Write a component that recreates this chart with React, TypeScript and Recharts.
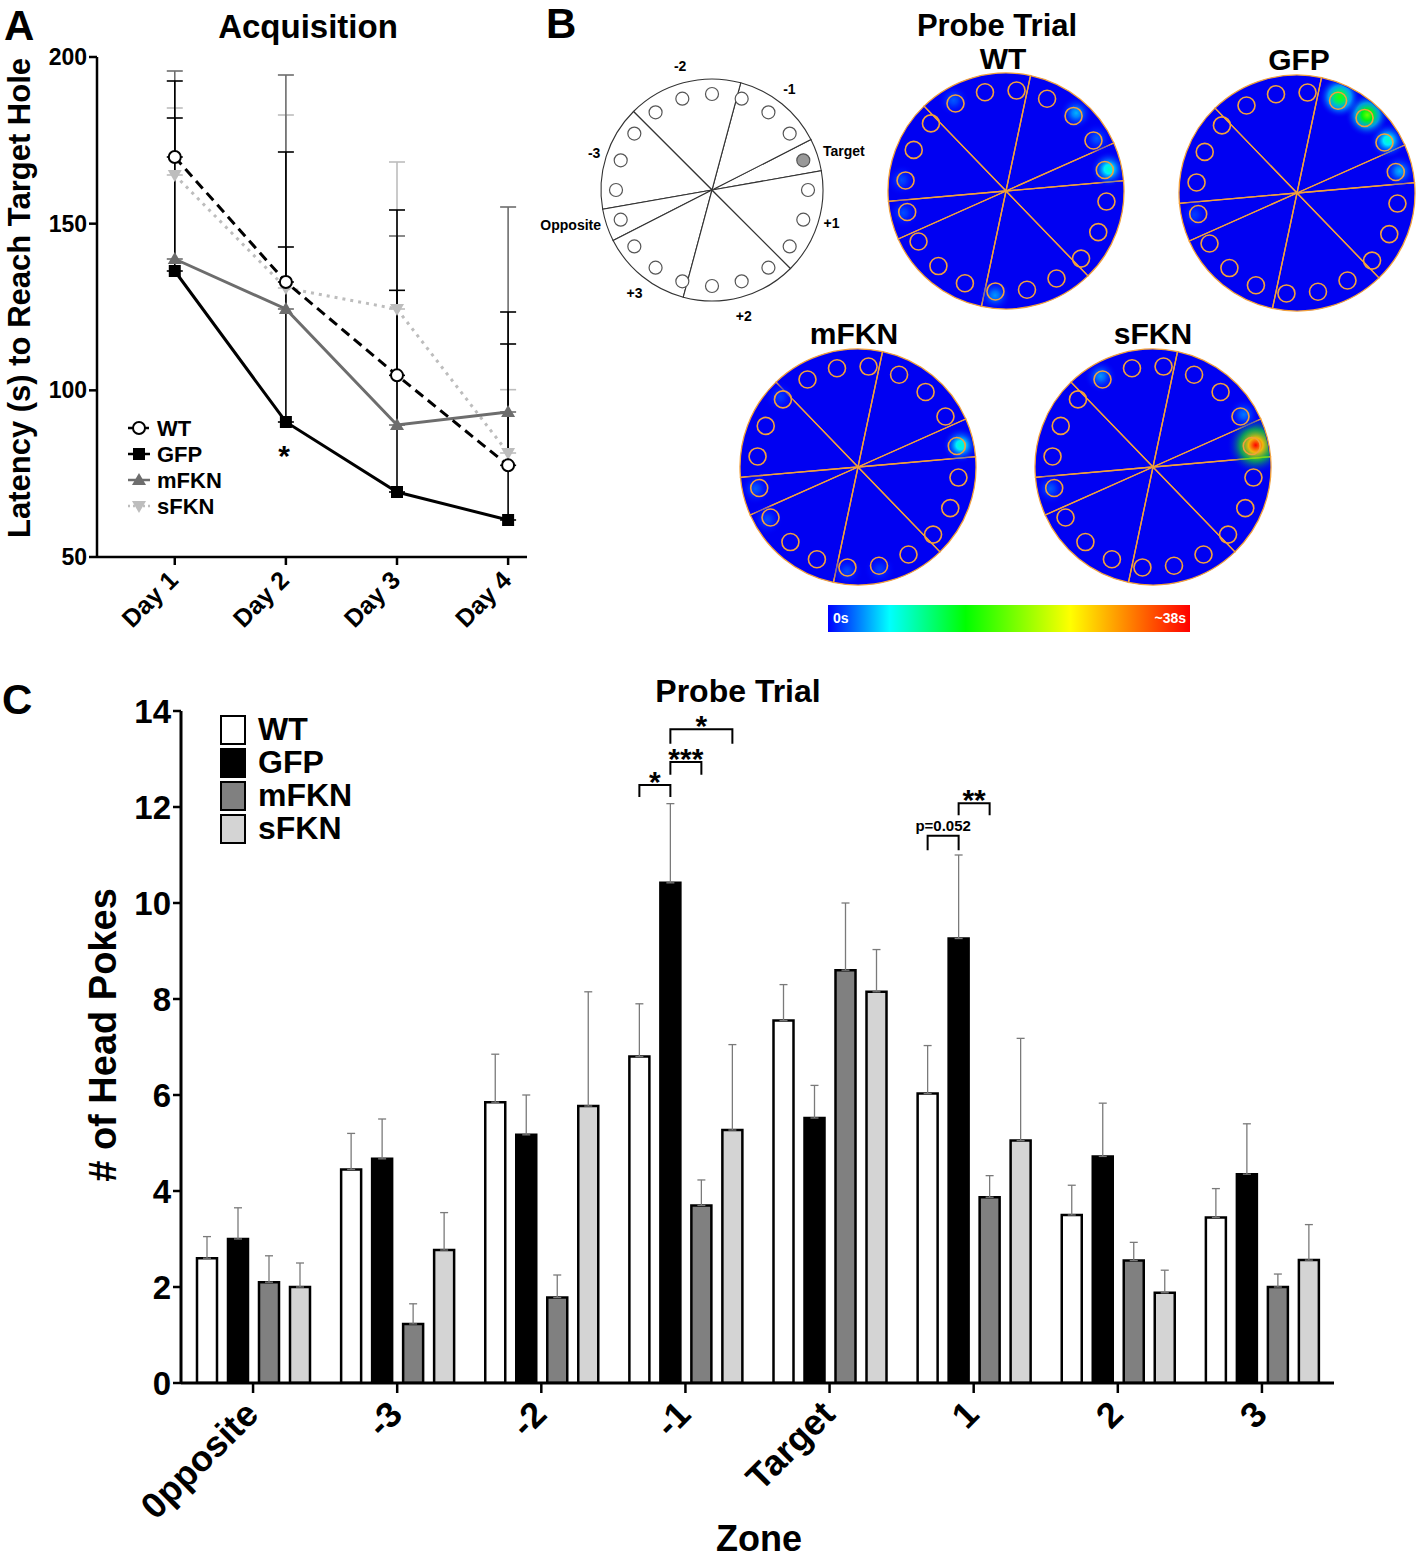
import React from "react";
import { LineChart, Line, BarChart, Bar, XAxis, YAxis, ErrorBar, PieChart, Pie } from "recharts";

const FONT = '"Liberation Sans", Arial, Helvetica, sans-serif';
const MAZE_BLUE = "#0000f2";
const ORANGE = "#f2a13a";
const RAD = Math.PI / 180;

// ---- A: acquisition, latency (s)
const days = [1, 2, 3, 4];
const dayLabels = ["Day 1", "Day 2", "Day 3", "Day 4"];
const latencyTicks = [50, 100, 150, 200];
const wtLatency = [170, 132.5, 104.5, 77.5];
const wtLatencySem = [22.8, 39, 49.6, 46];
const gfpLatency = [135.8, 90.5, 69.5, 61.1];
const gfpLatencySem = [45.9, 52.5, 60.5, 52.8];
const mfknLatency = [139.4, 124.4, 89.6, 93.5];
const mfknLatencySem = [56.4, 70.2, 56.7, 61.5];
const sfknLatency = [164.6, 130.7, 124.4, 81.2];
const sfknLatencySem = [20.1, 51.9, 44.1, 19];

// ---- B: maze zones, holes and probe occupancy (0..1 of ~38s)
const zoneNames = ["Target", "-1", "-2", "-3", "Opposite", "+3", "+2", "+1"];
const schematicZoneDeg = [17, 48, 60, 55, 17, 48, 60, 55];
const heatZoneDeg = [19, 54, 56, 51, 19, 54, 56, 51];
const holeNumbers = [0, 1, 2, 3, 4, 5, 6, 7, 8, 9, 10, 11, 12, 13, 14, 15, 16, 17, 18, 19];
const targetHole = 1;
const wtHeat = [0, 0.22, 0.06, 0.12, 0, 0, 0, 0.06, 0, 0, 0.05, 0.05, 0, 0, 0, 0.1, 0, 0, 0, 0];
const gfpHeat = [0, 0.12, 0.22, 0.5, 0.42, 0, 0, 0, 0, 0, 0, 0.04, 0, 0, 0, 0, 0, 0, 0, 0];
const mfknHeat = [0, 0.22, 0, 0, 0, 0, 0, 0, 0.04, 0, 0, 0.06, 0.05, 0, 0, 0.05, 0.04, 0, 0, 0];
const sfknHeat = [0, 1, 0.08, 0, 0, 0, 0, 0.1, 0, 0, 0, 0.06, 0, 0, 0, 0, 0, 0, 0, 0];

// ---- C: probe trial head pokes
const zones = ["0pposite", "-3", "-2", "-1", "Target", "1", "2", "3"];
const pokeTicks = [0, 2, 4, 6, 8, 10, 12, 14];
const wtPokes = [2.6, 4.45, 5.85, 6.8, 7.55, 6.03, 3.5, 3.45];
const wtPokesSem = [0.45, 0.75, 1.0, 1.1, 0.75, 1.0, 0.62, 0.6];
const gfpPokes = [3.0, 4.67, 5.17, 10.42, 5.52, 9.26, 4.72, 4.35];
const gfpPokesSem = [0.65, 0.83, 0.83, 1.65, 0.68, 1.74, 1.11, 1.05];
const mfknPokes = [2.1, 1.23, 1.78, 3.7, 8.6, 3.87, 2.55, 2.0];
const mfknPokesSem = [0.55, 0.42, 0.47, 0.53, 1.4, 0.45, 0.38, 0.27];
const sfknPokes = [2.0, 2.77, 5.77, 5.27, 8.15, 5.05, 1.88, 2.56];
const sfknPokesSem = [0.5, 0.78, 2.38, 1.78, 0.88, 2.13, 0.47, 0.74];

// significance brackets, series index 0=WT 1=GFP 2=mFKN 3=sFKN
const brackets = [
  { zone: "-1", from: 0, to: 1, level: 12.46, drop: 0.25, text: "*" },
  { zone: "-1", from: 1, to: 2, level: 12.94, drop: 0.27, text: "***" },
  { zone: "-1", from: 1, to: 3, level: 13.62, drop: 0.3, text: "*" },
  { zone: "1", from: 0, to: 1, level: 11.4, drop: 0.3, text: "p=0.052" },
  { zone: "1", from: 1, to: 2, level: 12.08, drop: 0.25, text: "**" },
];

const JET: [number, number[]][] = [
  [0, [0, 0, 255]],
  [0.17, [0, 255, 255]],
  [0.38, [0, 255, 0]],
  [0.67, [255, 255, 0]],
  [1, [255, 0, 0]],
];

function jet(v: number) {
  const t = Math.max(0, Math.min(1, v));
  for (let i = 1; i < JET.length; i++) {
    const [p0, c0] = JET[i - 1];
    const [p1, c1] = JET[i];
    if (t <= p1) {
      const f = (t - p0) / (p1 - p0);
      const c = c0.map((ch, k) => Math.round(ch + (c1[k] - ch) * f));
      return `rgb(${c.join(",")})`;
    }
  }
  return "rgb(255,0,0)";
}

const acquisition = days.map((d, i) => ({
  day: d,
  wt: wtLatency[i],
  wtErr: [0, wtLatencySem[i]],
  gfp: gfpLatency[i],
  gfpErr: [0, gfpLatencySem[i]],
  mfkn: mfknLatency[i],
  mfknErr: [0, mfknLatencySem[i]],
  sfkn: sfknLatency[i],
  sfknErr: [0, sfknLatencySem[i]],
}));

const probe = zones.map((z, i) => ({
  zone: z,
  wt: wtPokes[i],
  wtErr: [0, wtPokesSem[i]],
  gfp: gfpPokes[i],
  gfpErr: [0, gfpPokesSem[i]],
  mfkn: mfknPokes[i],
  mfknErr: [0, mfknPokesSem[i]],
  sfkn: sfknPokes[i],
  sfknErr: [0, sfknPokesSem[i]],
}));

const pokeSeries = [
  { key: "wt", name: "WT", fill: "#ffffff" },
  { key: "gfp", name: "GFP", fill: "#000000" },
  { key: "mfkn", name: "mFKN", fill: "#808080" },
  { key: "sfkn", name: "sFKN", fill: "#d4d4d4" },
];

const BAR_GAP = 11;
const NO_MARGIN = { top: 0, right: 0, bottom: 0, left: 0 };

// markers for panel A
const CircleDot = (p: any) => (
  <circle cx={p.cx} cy={p.cy} r={6} fill="#fff" stroke="#000" strokeWidth={2} />
);
const SquareDot = (p: any) => <rect x={p.cx - 6} y={p.cy - 6} width={12} height={12} fill="#000" />;
const triUp = (color: string) => (p: any) => (
  <polygon points={`${p.cx},${p.cy - 7} ${p.cx - 7},${p.cy + 5} ${p.cx + 7},${p.cy + 5}`} fill={color} />
);
const triDown = (color: string) => (p: any) => (
  <polygon points={`${p.cx},${p.cy + 7} ${p.cx - 7},${p.cy - 5} ${p.cx + 7},${p.cy - 5}`} fill={color} />
);

const DayTick = ({ x, y, payload }: any) => (
  <g transform={`translate(${x - 8},${y + 2})`}>
    <text transform="rotate(-45)" textAnchor="end" dy="0.72em" fontSize={25} fontWeight="bold" fontFamily={FONT} fill="#000">
      {dayLabels[days.indexOf(payload.value)]}
    </text>
  </g>
);

const ZoneTick = ({ x, y, payload }: any) => (
  <g transform={`translate(${x - 11},${y + 3})`}>
    <text transform="rotate(-45)" textAnchor="end" dy="0.72em" fontSize={36} fontWeight="bold" fontFamily={FONT} fill="#000">
      {payload.value}
    </text>
  </g>
);

const renderBrackets = (p: any) => {
  const vb = p.viewBox ?? p;
  const zone = zones[p.index];
  const list = brackets.filter((b) => b.zone === zone);
  if (!list.length || vb == null) return <g />;
  const value = typeof p.value === "number" ? p.value : gfpPokes[p.index];
  const step = vb.width + BAR_GAP;
  const cx = (s: number) => vb.x + vb.width / 2 + (s - 1) * step;
  const base = vb.y + vb.height;
  const px = vb.height / value;
  const yv = (v: number) => base - v * px;
  return (
    <g>
      {list.map((b, i) => {
        const y0 = yv(b.level);
        const y1 = yv(b.level - b.drop);
        const x0 = cx(b.from);
        const x1 = cx(b.to);
        const small = b.text.startsWith("p");
        return (
          <g key={i}>
            <path d={`M${x0},${y1}V${y0}H${x1}V${y1}`} fill="none" stroke="#000" strokeWidth={2} />
            <text
              x={(x0 + x1) / 2}
              y={small ? y0 - 5 : y0 + 7}
              textAnchor="middle"
              fontSize={small ? 15 : 30}
              fontWeight="bold"
              fontFamily={FONT}
              fill="#000"
            >
              {b.text}
            </text>
          </g>
        );
      })}
    </g>
  );
};

// ---- maze pie helpers
const polar = (p: any, r: number) => ({
  x: p.cx + r * Math.cos(p.midAngle * RAD),
  y: p.cy - r * Math.sin(p.midAngle * RAD),
});

const heatBlob = (id: string, heat: number[]) => (p: any) => {
  const v = heat[p.index] ?? 0;
  if (!v) return <g />;
  const { x, y } = polar(p, p.outerRadius + 4);
  const gid = `${id}-${p.index}`;
  return (
    <g>
      <defs>
        <radialGradient id={gid}>
          <stop offset="0%" stopColor={jet(v)} stopOpacity={1} />
          <stop offset="25%" stopColor={jet(v * 0.75)} stopOpacity={0.95} />
          <stop offset="55%" stopColor={jet(v * 0.4)} stopOpacity={0.6} />
          <stop offset="100%" stopColor="#0000ff" stopOpacity={0} />
        </radialGradient>
        <clipPath id={`${gid}c`}>
          <circle cx={p.cx} cy={p.cy} r={117} />
        </clipPath>
      </defs>
      <circle cx={x} cy={y} r={15 + 14 * v} fill={`url(#${gid})`} clipPath={`url(#${gid}c)`} />
    </g>
  );
};

const heatHole = (p: any) => {
  const { x, y } = polar(p, p.outerRadius);
  return <circle cx={x} cy={y} r={8.5} fill="none" stroke={ORANGE} strokeWidth={1.6} />;
};

const schematicHole = (p: any) => {
  const { x, y } = polar(p, p.outerRadius);
  const isTarget = p.index === targetHole;
  return (
    <circle cx={x} cy={y} r={6.5} fill={isTarget ? "#999" : "#fff"} stroke="#555" strokeWidth={1.2} />
  );
};

const zoneLabel = (p: any) => {
  const c = Math.cos(p.midAngle * RAD);
  const s = Math.sin(p.midAngle * RAD);
  const side = c > 0.7 ? "start" : c < -0.7 ? "end" : "middle";
  const r = p.outerRadius + (side === "middle" ? 12 : 6);
  const { x, y } = polar(p, r);
  const dy = side === "middle" ? (s > 0 ? 0 : 12) : 3;
  return (
    <text x={x} y={y + dy} textAnchor={side} fontSize={14} fontWeight="bold" fontFamily={FONT} fill="#000">
      {zoneNames[p.index]}
    </text>
  );
};

const schematicZones = zoneNames.map((z, i) => ({ zone: z, deg: schematicZoneDeg[i] }));
const heatZones = zoneNames.map((z, i) => ({ zone: z, deg: heatZoneDeg[i] }));
const holes = holeNumbers.map((h) => ({ hole: h, slot: 1 }));

const Schematic = ({ cx, cy }: { cx: number; cy: number }) => (
  <div style={{ position: "absolute", left: cx - 200, top: cy - 150 }}>
    <PieChart width={400} height={300} margin={NO_MARGIN}>
      <Pie data={schematicZones} dataKey="deg" cx={200} cy={150} outerRadius={111} startAngle={10} endAngle={370}
        fill="#fff" stroke="#333" strokeWidth={1.1} label={zoneLabel} labelLine={false} isAnimationActive={false} />
      <Pie data={holes} dataKey="slot" cx={200} cy={150} outerRadius={96} startAngle={-9} endAngle={351}
        fill="none" stroke="none" label={schematicHole} labelLine={false} isAnimationActive={false} />
    </PieChart>
  </div>
);

const HeatMap = ({ id, cx, cy, heat }: { id: string; cx: number; cy: number; heat: number[] }) => (
  <div style={{ position: "absolute", left: cx - 120, top: cy - 120 }}>
    <PieChart width={240} height={240} margin={NO_MARGIN}>
      <Pie data={heatZones} dataKey="deg" cx={120} cy={120} outerRadius={118} startAngle={5} endAngle={365}
        fill={MAZE_BLUE} stroke="none" isAnimationActive={false} />
      <Pie data={holes} dataKey="slot" cx={120} cy={120} outerRadius={101} startAngle={-15} endAngle={345}
        fill="none" stroke="none" label={heatBlob(id, heat)} labelLine={false} isAnimationActive={false} />
      <Pie data={heatZones} dataKey="deg" cx={120} cy={120} outerRadius={118} startAngle={5} endAngle={365}
        fill="none" stroke={ORANGE} strokeWidth={1.3} isAnimationActive={false} />
      <Pie data={holes} dataKey="slot" cx={120} cy={120} outerRadius={101} startAngle={-15} endAngle={345}
        fill="none" stroke="none" label={heatHole} labelLine={false} isAnimationActive={false} />
    </PieChart>
  </div>
);

const txt = (x: number, y: number, s: string, size: number, anchor = "middle", extra: any = {}) => (
  <text x={x} y={y} textAnchor={anchor} fontSize={size} fontWeight="bold" fontFamily={FONT} fill="#000" {...extra}>
    {s}
  </text>
);

const legendA = [
  { name: "WT", color: "#000", dash: "5 3", marker: "circle" },
  { name: "GFP", color: "#000", dash: undefined, marker: "square" },
  { name: "mFKN", color: "#6d6d6d", dash: undefined, marker: "up" },
  { name: "sFKN", color: "#bdbdbd", dash: "2 3", marker: "down" },
];

export default function App() {
  const gradient = JET.map(([p, c]) => `rgb(${c.join(",")}) ${p * 100}%`).join(", ");
  return (
    <div style={{ position: "absolute", left: 0, top: 0, width: 1418, height: 1559, background: "#fff", overflow: "hidden", fontFamily: FONT }}>
      {/* A */}
      <div style={{ position: "absolute", left: 0, top: 0 }}>
        <LineChart width={540} height={650} data={acquisition} margin={{ top: 57, right: 13, bottom: 0, left: 47 }}>
          <XAxis dataKey="day" type="number" domain={[0.3, 4.17]} allowDataOverflow ticks={days} tick={<DayTick />}
            height={93} tickSize={8} axisLine={{ stroke: "#000", strokeWidth: 2.5 }} tickLine={{ stroke: "#000", strokeWidth: 2.5 }} />
          <YAxis domain={[50, 200]} ticks={latencyTicks} width={50} allowDataOverflow tickSize={8}
            tick={{ fontSize: 23, fontWeight: "bold", fill: "#000", fontFamily: FONT }}
            axisLine={{ stroke: "#000", strokeWidth: 2.5 }} tickLine={{ stroke: "#000", strokeWidth: 2.5 }} />
          <Line dataKey="sfkn" stroke="#bdbdbd" strokeWidth={3} strokeDasharray="3 5" dot={triDown("#bdbdbd")} isAnimationActive={false}>
            <ErrorBar dataKey="sfknErr" direction="y" width={8} stroke="#bdbdbd" strokeWidth={1.6} />
          </Line>
          <Line dataKey="mfkn" stroke="#6d6d6d" strokeWidth={3} dot={triUp("#6d6d6d")} isAnimationActive={false}>
            <ErrorBar dataKey="mfknErr" direction="y" width={8} stroke="#6d6d6d" strokeWidth={1.6} />
          </Line>
          <Line dataKey="wt" stroke="#000" strokeWidth={3} strokeDasharray="10 6" dot={CircleDot} isAnimationActive={false}>
            <ErrorBar dataKey="wtErr" direction="y" width={8} stroke="#000" strokeWidth={1.6} />
          </Line>
          <Line dataKey="gfp" stroke="#000" strokeWidth={3} dot={SquareDot} isAnimationActive={false}>
            <ErrorBar dataKey="gfpErr" direction="y" width={8} stroke="#000" strokeWidth={1.6} />
          </Line>
        </LineChart>
      </div>

      {/* B */}
      <Schematic cx={712} cy={190} />
      <HeatMap id="wt" cx={1006} cy={191} heat={wtHeat} />
      <HeatMap id="gfp" cx={1297} cy={193} heat={gfpHeat} />
      <HeatMap id="mfkn" cx={858} cy={467} heat={mfknHeat} />
      <HeatMap id="sfkn" cx={1153} cy={467} heat={sfknHeat} />
      <div style={{ position: "absolute", left: 828, top: 605, width: 362, height: 27, background: `linear-gradient(to right, ${gradient})` }}>
        <span style={{ position: "absolute", left: 5, top: 5, color: "#fff", fontWeight: "bold", fontSize: 14 }}>0s</span>
        <span style={{ position: "absolute", right: 4, top: 5, color: "#fff", fontWeight: "bold", fontSize: 14 }}>~38s</span>
      </div>

      {/* C */}
      <div style={{ position: "absolute", left: 0, top: 680 }}>
        <BarChart width={1418} height={879} data={probe} margin={{ top: 31, right: 84, bottom: 56, left: 121 }}
          barCategoryGap={16} barGap={BAR_GAP}>
          <XAxis dataKey="zone" interval={0} height={120} tickSize={10} tick={<ZoneTick />}
            axisLine={{ stroke: "#000", strokeWidth: 3 }} tickLine={{ stroke: "#000", strokeWidth: 2.5 }} />
          <YAxis domain={[0, 14]} ticks={pokeTicks} width={60} tickSize={8} allowDataOverflow
            tick={{ fontSize: 33, fontWeight: "bold", fill: "#000", fontFamily: FONT }}
            axisLine={{ stroke: "#000", strokeWidth: 3 }} tickLine={{ stroke: "#000", strokeWidth: 2.5 }} />
          {pokeSeries.map((s) => (
            <Bar key={s.key} dataKey={s.key} name={s.name} fill={s.fill} stroke="#000" strokeWidth={2.5}
              isAnimationActive={false} label={s.key === "gfp" ? renderBrackets : undefined}>
              <ErrorBar dataKey={`${s.key}Err`} direction="y" width={4} stroke="#7a7a7a" strokeWidth={1.3} />
            </Bar>
          ))}
        </BarChart>
      </div>
      {pokeSeries.map((s, i) => (
        <div key={s.key} style={{ position: "absolute", left: 220, top: 715 + i * 33 }}>
          <div style={{ position: "absolute", left: 0, top: 0, width: 22, height: 26, background: s.fill, border: "2.5px solid #000" }} />
          <span style={{ position: "absolute", left: 38, top: -4, fontSize: 32, fontWeight: "bold", whiteSpace: "nowrap" }}>{s.name}</span>
        </div>
      ))}

      {/* free text */}
      <svg width={1418} height={1559} style={{ position: "absolute", left: 0, top: 0, pointerEvents: "none" }}>
        {txt(4, 40, "A", 42, "start")}
        {txt(546, 38, "B", 42, "start")}
        {txt(2, 714, "C", 42, "start")}
        {txt(308, 38, "Acquisition", 33)}
        {txt(0, 0, "Latency (s) to Reach  Target Hole", 31, "middle", { transform: "translate(30,298) rotate(-90)" })}
        {txt(284, 466, "*", 30)}
        {legendA.map((l, i) => {
          const y = 428 + i * 26;
          return (
            <g key={l.name}>
              <line x1={128} x2={150} y1={y} y2={y} stroke={l.color} strokeWidth={2.5} strokeDasharray={l.dash} />
              {l.marker === "circle" && <circle cx={139} cy={y} r={6} fill="#fff" stroke="#000" strokeWidth={2} />}
              {l.marker === "square" && <rect x={133} y={y - 6} width={12} height={12} fill="#000" />}
              {l.marker === "up" && <polygon points={`139,${y - 7} 132,${y + 5} 146,${y + 5}`} fill={l.color} />}
              {l.marker === "down" && <polygon points={`139,${y + 7} 132,${y - 5} 146,${y - 5}`} fill={l.color} />}
              {txt(157, y + 8, l.name, 22, "start")}
            </g>
          );
        })}
        {txt(997, 36, "Probe Trial", 31)}
        {txt(1003, 69, "WT", 30)}
        {txt(1299, 70, "GFP", 30)}
        {txt(854, 344, "mFKN", 30)}
        {txt(1153, 344, "sFKN", 30)}
        {txt(738, 702, "Probe Trial", 32)}
        {txt(0, 0, "# of Head Pokes", 38, "middle", { transform: "translate(116,1035) rotate(-90)" })}
        {txt(759, 1551, "Zone", 36)}
      </svg>
    </div>
  );
}
